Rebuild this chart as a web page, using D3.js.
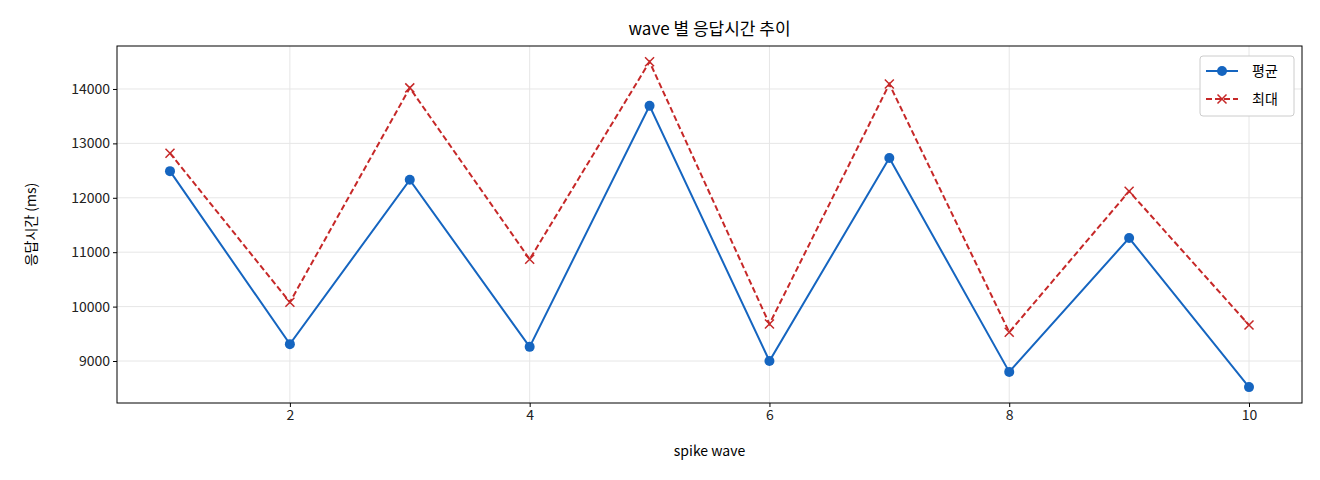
<!DOCTYPE html>
<html><head><meta charset="utf-8">
<script src="https://cdn.jsdelivr.net/npm/d3@7"></script>
<style>body{margin:0;background:#fff}text{font-family:"Noto Sans CJK KR","Noto Sans",sans-serif}</style>
</head><body><svg id="c" width="1320" height="480"></svg>
<script>
const waves=[1,2,3,4,5,6,7,8,9,10];
const avgVals=[12490,9310,12330,9260,13690,9000,12730,8800,11260,8520];
const maxVals=[12820,10080,14020,10870,14500,9680,14090,9530,12120,9660];
const xTicks=[2,4,6,8,10];
const yTicks=[9000,10000,11000,12000,13000,14000];
const L=117,R=1302,T=46,B=403;
const svg=d3.select("#c");
const x=d3.scaleLinear().domain([0.558,10.442]).range([L,R]);
const y=d3.scaleLinear().domain([8228,14790]).range([B,T]);
const g=svg.append("g");
g.selectAll(".gx").data(xTicks).join("line").attr("x1",d=>x(d)).attr("x2",d=>x(d)).attr("y1",T).attr("y2",B).attr("stroke","#e6e6e6");
g.selectAll(".gy").data(yTicks).join("line").attr("y1",d=>y(d)).attr("y2",d=>y(d)).attr("x1",L).attr("x2",R).attr("stroke","#e6e6e6");
svg.append("g").attr("transform",`translate(0,${B})`).call(d3.axisBottom(x).tickValues(xTicks).tickSize(4).tickFormat(d3.format("d"))).call(a=>{a.select(".domain").remove();a.selectAll("text").attr("font-size",14).attr("fill","#222")});
svg.append("g").attr("transform",`translate(${L},0)`).call(d3.axisLeft(y).tickValues(yTicks).tickSize(4).tickFormat(d3.format("d"))).call(a=>{a.select(".domain").remove();a.selectAll("text").attr("font-size",14).attr("fill","#222")});
svg.append("rect").attr("x",L).attr("y",T).attr("width",R-L).attr("height",B-T).attr("fill","none").attr("stroke","#000");
const line=d3.line().x((d,i)=>x(waves[i])).y(d=>y(d));
svg.append("path").attr("d",line(avgVals)).attr("fill","none").attr("stroke","#1565c0").attr("stroke-width",2);
svg.selectAll(".pa").data(avgVals).join("circle").attr("cx",(d,i)=>x(waves[i])).attr("cy",d=>y(d)).attr("r",5).attr("fill","#1565c0");
svg.append("path").attr("d",line(maxVals)).attr("fill","none").attr("stroke","#c62828").attr("stroke-width",2).attr("stroke-dasharray","6,3");
const cross=(sel,cx,cy)=>sel.append("path").attr("d",`M${cx-4.5},${cy-4.5}L${cx+4.5},${cy+4.5}M${cx-4.5},${cy+4.5}L${cx+4.5},${cy-4.5}`).attr("stroke","#c62828").attr("stroke-width",1.5);
maxVals.forEach((d,i)=>cross(svg,x(waves[i]),y(d)));
svg.append("text").attr("x",(L+R)/2).attr("y",35).attr("text-anchor","middle").attr("font-size",17).text("wave 별 응답시간 추이");
svg.append("text").attr("x",(L+R)/2).attr("y",456).attr("text-anchor","middle").attr("font-size",14).text("spike wave");
svg.append("text").attr("transform",`translate(36,${(T+B)/2}) rotate(-90)`).attr("text-anchor","middle").attr("font-size",14).text("응답시간 (ms)");
const lg=svg.append("g");
lg.append("rect").attr("x",1200).attr("y",56).attr("width",94).attr("height",60).attr("rx",3).attr("fill","#fff").attr("stroke","#ccc");
lg.append("line").attr("x1",1206).attr("x2",1238).attr("y1",71).attr("y2",71).attr("stroke","#1565c0").attr("stroke-width",2);
lg.append("circle").attr("cx",1222).attr("cy",71).attr("r",5).attr("fill","#1565c0");
lg.append("line").attr("x1",1206).attr("x2",1238).attr("y1",99).attr("y2",99).attr("stroke","#c62828").attr("stroke-width",2).attr("stroke-dasharray","6,3");
cross(lg,1222,99);
lg.append("text").attr("x",1252).attr("y",76).attr("font-size",14).text("평균");
lg.append("text").attr("x",1252).attr("y",104).attr("font-size",14).text("최대");
</script></body></html>
